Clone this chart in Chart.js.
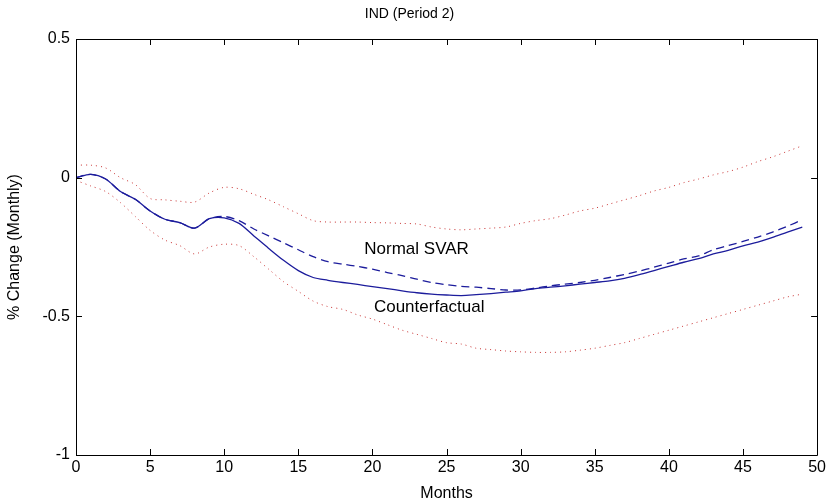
<!DOCTYPE html>
<html>
<head>
<meta charset="utf-8">
<script src="https://cdn.jsdelivr.net/npm/chart.js@4.4.1/dist/chart.umd.min.js"></script>
<style>
  html, body { margin: 0; padding: 0; background: #fff; }
  #wrap { width: 829px; height: 503px; }
</style>
</head>
<body>
<div id="wrap"><canvas id="chart" width="829" height="503"></canvas></div>
<script>
// horizon (months)
const months = [0, 1, 2, 3, 4, 5, 6, 7, 8, 9, 10, 11, 12, 13, 14, 15, 16, 17, 18, 19,
    20, 21, 22, 23, 24, 25, 26, 27, 28, 29, 30, 31, 32, 33, 34, 35, 36, 37, 38, 39,
    40, 41, 42, 43, 44, 45, 46, 47, 48, 49];

// counterfactual response (solid)
const counterfactual = [0, 0.012, -0.005, -0.05, -0.078, -0.12, -0.15, -0.162, -0.182, -0.148,
    -0.145, -0.165, -0.21, -0.255, -0.298, -0.335, -0.36, -0.37, -0.378, -0.385,
    -0.393, -0.4, -0.408, -0.415, -0.42, -0.423, -0.425, -0.422, -0.418, -0.413,
    -0.408, -0.4, -0.395, -0.39, -0.384, -0.378, -0.372, -0.363, -0.35, -0.335,
    -0.32, -0.305, -0.292, -0.275, -0.262, -0.246, -0.232, -0.215, -0.196, -0.178];

// normal SVAR response (dashed)
const normalSvar = [0, 0.012, -0.005, -0.05, -0.078, -0.12, -0.15, -0.162, -0.182, -0.148,
    -0.14, -0.155, -0.185, -0.21, -0.235, -0.26, -0.285, -0.303, -0.312, -0.32,
    -0.33, -0.342, -0.353, -0.366, -0.378, -0.386, -0.392, -0.395, -0.4, -0.405,
    -0.405, -0.398, -0.39, -0.384, -0.378, -0.37, -0.36, -0.349, -0.337, -0.323,
    -0.308, -0.293, -0.282, -0.26, -0.245, -0.23, -0.214, -0.196, -0.175, -0.152];

// confidence bands (dotted)
const upperBand = [0.045, 0.045, 0.035, 0.0, -0.025, -0.075, -0.08, -0.085, -0.088, -0.055,
    -0.035, -0.04, -0.06, -0.08, -0.105, -0.13, -0.155, -0.16, -0.16, -0.16,
    -0.162, -0.163, -0.165, -0.167, -0.178, -0.185, -0.188, -0.185, -0.182, -0.178,
    -0.165, -0.155, -0.148, -0.135, -0.12, -0.11, -0.095, -0.08, -0.065, -0.048,
    -0.035, -0.018, -0.005, 0.01, 0.022, 0.038, 0.058, 0.075, 0.095, 0.115];

const lowerBand = [-0.01, -0.03, -0.05, -0.09, -0.14, -0.19, -0.225, -0.245, -0.275, -0.25,
    -0.24, -0.245, -0.285, -0.33, -0.375, -0.41, -0.445, -0.465, -0.475, -0.495,
    -0.51, -0.53, -0.55, -0.565, -0.58, -0.595, -0.6, -0.615, -0.62, -0.625,
    -0.628, -0.63, -0.63, -0.628, -0.622, -0.615, -0.605, -0.595, -0.58, -0.565,
    -0.55, -0.535, -0.52, -0.505, -0.49, -0.475, -0.46, -0.445, -0.43, -0.42];

const xTicks = [0, 5, 10, 15, 20, 25, 30, 35, 40, 45, 50];
const yTicks = [0.5, 0, -0.5, -1];
const yTickLabels = ['0.5', '0', '-0.5', '-1'];

// text labels inside the plot (data coordinates)
const annotations = [
    { text: 'Normal SVAR', x: 19.45, y: -0.26 },
    { text: 'Counterfactual', x: 20.1, y: -0.466 }
];

const FONT = "'Liberation Sans', Arial, sans-serif";

function toPoints(values) {
    return months.map((m, i) => ({ x: m, y: values[i] }));
}

// рамка вокруг области графика и засечки внутрь, как в MATLAB
const boxPlugin = {
    id: 'matlabBox',
    afterDatasetsDraw(chart) {
        const { ctx, chartArea: a, scales } = chart;
        const len = 6;
        ctx.save();
        ctx.strokeStyle = '#000';
        ctx.lineWidth = 1;
        ctx.beginPath();
        ctx.rect(Math.round(a.left) + 0.5, Math.round(a.top) + 0.5,
            Math.round(a.right - a.left), Math.round(a.bottom - a.top));
        xTicks.forEach(v => {
            const px = Math.round(scales.x.getPixelForValue(v)) + 0.5;
            ctx.moveTo(px, a.bottom);
            ctx.lineTo(px, a.bottom - len);
            ctx.moveTo(px, a.top);
            ctx.lineTo(px, a.top + len);
        });
        yTicks.forEach(v => {
            const py = Math.round(scales.y.getPixelForValue(v)) + 0.5;
            ctx.moveTo(a.left, py);
            ctx.lineTo(a.left + len, py);
            ctx.moveTo(a.right, py);
            ctx.lineTo(a.right - len, py);
        });
        ctx.stroke();

        // подписи линий
        ctx.fillStyle = '#000';
        ctx.font = '17px ' + FONT;
        ctx.textAlign = 'left';
        ctx.textBaseline = 'middle';
        annotations.forEach(t => {
            ctx.fillText(t.text, scales.x.getPixelForValue(t.x), scales.y.getPixelForValue(t.y));
        });
        ctx.restore();
    }
};

const lineColor = '#1c1c9c';
const bandColor = '#c83232';

new Chart(document.getElementById('chart'), {
    type: 'line',
    data: {
        datasets: [
            {
                label: 'Normal SVAR',
                data: toPoints(normalSvar),
                borderColor: lineColor,
                borderWidth: 1.3,
                borderDash: [8, 5],
                pointRadius: 0,
                tension: 0.3
            },
            {
                label: 'Counterfactual',
                data: toPoints(counterfactual),
                borderColor: lineColor,
                borderWidth: 1.3,
                pointRadius: 0,
                tension: 0.3
            },
            {
                label: 'Upper',
                data: toPoints(upperBand),
                borderColor: bandColor,
                borderWidth: 1,
                borderDash: [1, 4],
                pointRadius: 0,
                tension: 0.3
            },
            {
                label: 'Lower',
                data: toPoints(lowerBand),
                borderColor: bandColor,
                borderWidth: 1,
                borderDash: [1, 4],
                pointRadius: 0,
                tension: 0.3
            }
        ]
    },
    options: {
        responsive: false,
        animation: false,
        devicePixelRatio: 1,
        layout: { padding: { top: 0, right: 10, bottom: 0, left: 0 } },
        plugins: {
            legend: { display: false },
            tooltip: { enabled: false },
            title: {
                display: true,
                text: 'IND (Period 2)',
                color: '#000',
                font: { family: FONT, size: 14, weight: 'normal' },
                padding: { top: 6, bottom: 16.2 }
            }
        },
        scales: {
            x: {
                type: 'linear',
                min: 0,
                max: 50,
                afterFit: s => { s.height = 48; },
                afterBuildTicks: s => { s.ticks = xTicks.map(v => ({ value: v })); },
                grid: { display: false, drawTicks: false },
                border: { display: false },
                ticks: {
                    color: '#000',
                    padding: 3,
                    maxRotation: 0,
                    font: { family: FONT, size: 16 }
                },
                title: {
                    display: true,
                    text: 'Months',
                    color: '#000',
                    font: { family: FONT, size: 16 },
                    padding: { top: 0, bottom: 0 }
                }
            },
            y: {
                type: 'linear',
                min: -1,
                max: 0.5,
                afterFit: s => { s.width = 76; },
                afterBuildTicks: s => { s.ticks = yTicks.map(v => ({ value: v })); },
                grid: { display: false, drawTicks: false },
                border: { display: false },
                ticks: {
                    color: '#000',
                    padding: 6,
                    font: { family: FONT, size: 16 },
                    callback: (v, i) => yTickLabels[yTicks.indexOf(v)] ?? String(v)
                },
                title: {
                    display: true,
                    text: '% Change (Monthly)',
                    color: '#000',
                    font: { family: FONT, size: 16 },
                    padding: { top: 5, bottom: 0 }
                }
            }
        }
    },
    plugins: [boxPlugin]
});
</script>
</body>
</html>
